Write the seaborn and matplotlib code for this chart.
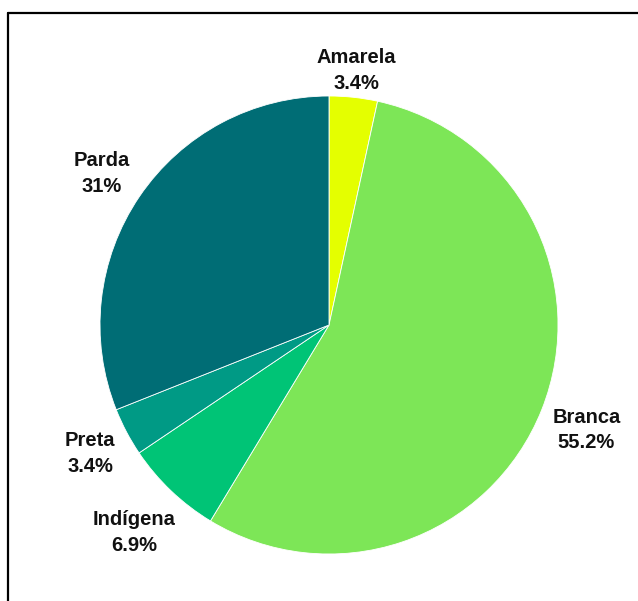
import numpy as np
import matplotlib
matplotlib.use("Agg")
import matplotlib.pyplot as plt
import seaborn as sns
from matplotlib.lines import Line2D

categories = ["Amarela", "Branca", "Indígena", "Preta", "Parda"]
values = [3.4, 55.2, 6.9, 3.4, 31.0]
value_labels = ["3.4%", "55.2%", "6.9%", "3.4%", "31%"]
colors = ["#e4ff00", "#7de657", "#00c476", "#009a85", "#006d75"]

sns.set_theme(style="white")
plt.rcParams["font.family"] = ["Liberation Sans", "DejaVu Sans"]

W, H = 638, 601
fig = plt.figure(figsize=(W / 100, H / 100), dpi=100)
ax = fig.add_axes([0, 0, 1, 1])
cx, cy, R = 329, 325, 229

wedges, _ = ax.pie(values, colors=colors, startangle=90, counterclock=False,
                   radius=1.0, center=(0, 0), frame=True,
                   wedgeprops=dict(linewidth=0.6, edgecolor="#ffffff"))
ax.set_xlim((0 - cx) / R, (W - cx) / R)
ax.set_ylim((cy - H) / R, (cy - 0) / R)
ax.set_aspect("auto")
ax.axis("off")

dists = [1.13, 1.21, 1.235, 1.18, 1.2]
for w, cat, lab, d in zip(wedges, categories, value_labels, dists):
    ang = np.deg2rad((w.theta1 + w.theta2) / 2)
    x, y = d * np.cos(ang), d * np.sin(ang) - 2.5 / R
    ax.text(x, y, f"{cat}\n{lab}", ha="center", va="center",
            fontsize=14.5, fontweight="bold", color="#111111", linespacing=1.45)

fig.add_artist(Line2D([8 / W, 8 / W], [0, 1 - 13 / H], transform=fig.transFigure,
                      color="black", linewidth=1.6))
fig.add_artist(Line2D([8 / W, 1], [1 - 13 / H, 1 - 13 / H], transform=fig.transFigure,
                      color="black", linewidth=1.6))

fig.savefig("out.png", dpi=100, facecolor="white")
